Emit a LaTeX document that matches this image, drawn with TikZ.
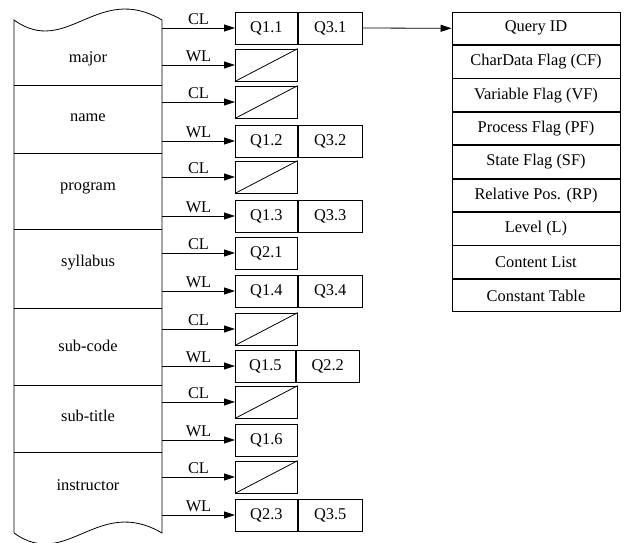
\documentclass[tikz,border=0pt]{standalone}
\usepackage{fontspec}
\setmainfont{Liberation Serif}
\usetikzlibrary{arrows.meta}
\begin{document}
\begin{tikzpicture}[x=1pt,y=-1pt,line width=0.8pt,
  every node/.style={font=\fontsize{16.4}{19}\selectfont},
  cell/.style={draw, minimum height=32pt, minimum width=62pt, inner sep=0pt, anchor=west},
  trow/.style={draw, minimum height=32.6pt, minimum width=168pt, inner sep=0pt},
  arr/.style={-{Triangle[length=11pt,width=7pt]}},
  lbl/.style={midway, above, inner sep=2.5pt}]
\useasboundingbox (0,0) rectangle (624,542);
% left column
\draw (14,533) -- (14,20) .. controls (66.9,58) and (97.4,-18) .. (162,20)
  -- (162,533) .. controls (97.4,495) and (66.9,571) .. (14,533);
\foreach \yy in {85,153,229,308,385,452} \draw (14,\yy) -- (162,\yy);
\node (major) at (88,59) {major};
\node (name) at (88,118) {name};
\node (program) at (88,188) {program};
\node (syllabus) at (88,263) {syllabus};
\node (subcode) at (88,346) {sub-code};
\node (subtitle) at (88,416) {sub-title};
\node (instructor) at (88,485) {instructor};
% start points
\foreach \i/\yy in {1/28,2/65,3/102,4/141,5/177,6/216,7/253,8/291,9/329,10/366,11/402,12/440,13/477,14/515}
  \coordinate (s\i) at (162,\yy);
% boxes
\node[cell] (b1) at (235,28) {Q1.1};
\node[cell, minimum width=64pt] (b1b) at (b1.east) {Q3.1};
\node[cell] (b2) at (235,65) {};
\node[cell] (b3) at (235,102) {};
\node[cell] (b4) at (235,141) {Q1.2};
\node[cell, minimum width=64pt] (b4b) at (b4.east) {Q3.2};
\node[cell] (b5) at (235,177) {};
\node[cell] (b6) at (235,216) {Q1.3};
\node[cell, minimum width=64pt] (b6b) at (b6.east) {Q3.3};
\node[cell] (b7) at (235,253) {Q2.1};
\node[cell] (b8) at (235,291) {Q1.4};
\node[cell, minimum width=64pt] (b8b) at (b8.east) {Q3.4};
\node[cell] (b9) at (235,329) {};
\node[cell, minimum width=60pt] (b10) at (235,366) {Q1.5};
\node[cell, minimum width=63pt] (b10b) at (b10.east) {Q2.2};
\node[cell] (b11) at (235,402) {};
\node[cell] (b12) at (235,440) {Q1.6};
\node[cell] (b13) at (235,477) {};
\node[cell] (b14) at (235,515) {Q2.3};
\node[cell, minimum width=64pt] (b14b) at (b14.east) {Q3.5};
\foreach \b in {b2,b3,b5,b9,b11,b13}
  \draw (\b.south west) -- (\b.north east);
% arrows
\foreach \i/\t in {1/CL,2/WL,3/CL,4/WL,5/CL,6/WL,7/CL,8/WL,9/CL,10/WL,11/CL,12/WL,13/CL,14/WL}
  \draw[arr] (s\i) -- (b\i.west) node[lbl] {\t};
% right table
\node[trow] (t1) at (536,28.3) {Query ID};
\node[trow, anchor=north] (t2) at (t1.south) {CharData Flag (CF)};
\node[trow, anchor=north] (t3) at (t2.south) {Variable Flag (VF)};
\node[trow, anchor=north] (t4) at (t3.south) {Process Flag (PF)};
\node[trow, anchor=north] (t5) at (t4.south) {State Flag (SF)};
\node[trow, anchor=north] (t6) at (t5.south) {Relative Pos. (RP)};
\node[trow, anchor=north] (t7) at (t6.south) {Level (L)};
\node[trow, anchor=north] (t8) at (t7.south) {Content List};
\node[trow, anchor=north] (t9) at (t8.south) {Constant Table};
\draw[arr] (b1b.east) -- (t1.west);
\end{tikzpicture}
\end{document}
